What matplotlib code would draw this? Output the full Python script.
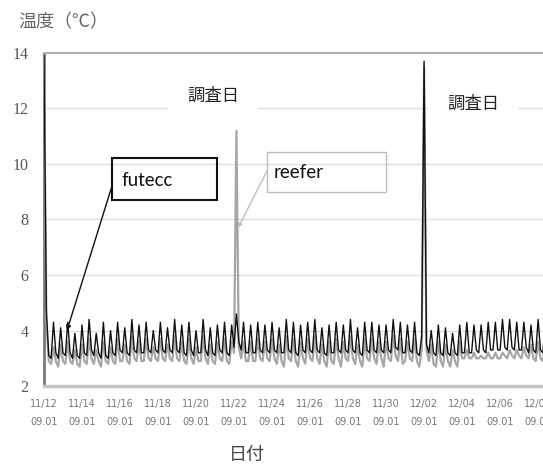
import numpy as np
import pandas as pd
import matplotlib
matplotlib.use('Agg')
import matplotlib.pyplot as plt
from matplotlib.patches import Rectangle

# readings every 3 hours from 11/12 09:01, one row per day
futecc = [
    13.9, 4.7, 3.1, 3.0, 4.3, 3.2, 3.0, 4.1,
    3.2, 3.1, 4.3, 3.2, 3.0, 3.9, 3.1, 3.0,
    4.2, 3.2, 3.1, 4.4, 3.3, 3.1, 3.9, 3.2,
    3.0, 4.3, 3.1, 3.0, 4.0, 3.2, 3.1, 4.3,
    3.3, 3.2, 4.1, 3.2, 3.1, 4.4, 3.3, 3.2,
    4.2, 3.2, 3.2, 4.3, 3.3, 3.2, 4.0, 3.3,
    3.2, 4.3, 3.3, 3.2, 4.1, 3.3, 3.2, 4.4,
    3.3, 3.2, 4.2, 3.2, 3.1, 4.3, 3.3, 3.1,
    4.0, 3.2, 3.2, 4.4, 3.3, 3.1, 4.1, 3.2,
    3.1, 4.2, 3.3, 3.2, 4.3, 3.2, 3.1, 4.2,
    3.4, 4.6, 3.6, 3.3, 4.3, 3.2, 3.2, 4.2,
    3.2, 3.2, 4.3, 3.3, 3.2, 4.2, 3.3, 3.2,
    4.3, 3.3, 3.2, 4.1, 3.2, 3.2, 4.4, 3.3,
    3.2, 4.3, 3.2, 3.1, 4.2, 3.3, 3.2, 4.3,
    3.3, 3.2, 4.4, 3.3, 3.2, 4.1, 3.2, 3.1,
    4.2, 3.2, 3.2, 4.3, 3.3, 3.2, 4.2, 3.3,
    3.2, 4.4, 3.3, 3.2, 4.1, 3.2, 3.1, 4.3,
    3.3, 3.2, 4.3, 3.3, 3.2, 4.2, 3.3, 3.2,
    4.2, 3.3, 3.2, 4.4, 3.4, 3.3, 4.3, 3.2,
    3.2, 4.2, 3.3, 3.2, 4.3, 3.2, 3.1, 3.8,
    13.7, 3.5, 3.2, 4.0, 3.2, 3.1, 4.2, 3.2,
    3.1, 4.1, 3.2, 3.1, 3.9, 3.2, 3.1, 4.2,
    3.2, 3.2, 4.3, 3.2, 3.2, 4.2, 3.3, 3.2,
    4.2, 3.3, 3.2, 4.3, 3.3, 3.3, 4.3, 3.3,
    3.3, 4.4, 3.4, 3.3, 4.4, 3.4, 3.3, 4.3,
    3.3, 3.3, 4.3, 3.4, 3.2, 4.2, 3.3, 3.2,
    4.4, 3.3, 3.2, 4.3, 3.2, 3.1, 4.1, 3.2,
]
reefer = [
    13.8, 4.4, 2.9, 2.8, 3.4, 2.9, 2.7, 3.5,
    2.9, 2.8, 3.6, 2.9, 2.8, 3.3, 2.8, 2.7,
    3.5, 2.9, 2.8, 3.7, 3.0, 2.8, 3.3, 2.9,
    2.7, 3.6, 2.9, 2.8, 3.4, 2.9, 2.8, 3.7,
    2.9, 2.9, 3.5, 2.9, 2.8, 3.8, 3.0, 2.9,
    3.6, 2.9, 2.9, 3.7, 3.0, 2.9, 3.4, 3.0,
    2.9, 3.7, 3.0, 2.9, 3.5, 3.0, 2.9, 3.8,
    3.0, 2.9, 3.6, 2.9, 2.8, 3.7, 3.0, 2.8,
    3.4, 2.9, 2.9, 3.8, 3.0, 2.8, 3.5, 2.9,
    2.8, 3.6, 3.0, 2.9, 3.7, 2.9, 2.8, 3.6,
    3.2, 11.2, 3.4, 3.0, 3.6, 2.9, 2.9, 3.6,
    2.9, 2.9, 3.7, 3.0, 2.9, 3.6, 3.0, 2.9,
    3.7, 3.0, 2.8, 3.5, 2.9, 2.7, 3.8, 3.0,
    2.9, 3.7, 2.9, 2.7, 3.6, 3.0, 2.8, 3.7,
    3.0, 2.9, 3.8, 3.0, 2.8, 3.5, 2.9, 2.7,
    3.6, 2.9, 2.8, 3.7, 3.0, 2.7, 3.6, 3.0,
    2.9, 3.8, 3.0, 2.8, 3.5, 2.9, 2.7, 3.7,
    3.0, 2.9, 3.7, 3.0, 2.8, 3.6, 3.0, 2.7,
    3.6, 3.0, 2.9, 3.8, 3.1, 2.9, 3.7, 2.8,
    2.9, 3.6, 3.0, 2.9, 3.7, 2.9, 2.7, 3.3,
    13.5, 3.3, 2.9, 3.5, 2.8, 2.7, 3.6, 2.9,
    2.7, 3.5, 2.9, 2.7, 3.3, 2.9, 2.7, 3.6,
    3.0, 3.0, 3.3, 3.0, 3.0, 3.2, 3.0, 3.0,
    3.1, 3.0, 3.0, 3.2, 3.0, 3.0, 3.2, 3.0,
    3.0, 3.2, 3.1, 3.0, 3.3, 3.1, 3.0, 3.3,
    3.1, 3.0, 3.4, 3.1, 3.0, 3.5, 3.0, 2.9,
    3.6, 3.0, 2.9, 3.6, 2.9, 2.8, 3.5, 2.9,
]

start = pd.Timestamp('2015-11-12 09:01')
times = pd.date_range(start, periods=len(futecc), freq='3h')
tick_dates = pd.date_range(start, periods=14, freq='2D')
tick_labels = [d.strftime('%m/%d') + '\n' + d.strftime('%H.%M') for d in tick_dates]
yticks = [2, 4, 6, 8, 10, 12, 14]

jp = ['Noto Sans CJK JP', 'DejaVu Sans']

fig = plt.figure(figsize=(5.43, 4.68), dpi=100)
ax = fig.add_axes([0.081, 0.175, 0.945, 0.712])

ax.plot(times, reefer, color='#a6a6a6', lw=1.6, zorder=3)
ax.plot(times, futecc, color='#111111', lw=1.0, zorder=4)

ax.set_ylim(2, 14)
ax.set_xlim(start, start + pd.Timedelta(days=27))
ax.set_yticks(yticks)
ax.set_yticklabels([str(v) for v in yticks], family='Liberation Serif',
                   fontsize=11.5, color='#555555')
ax.set_xticks(tick_dates)
ax.set_xticklabels(tick_labels, fontsize=7, color='#777777', linespacing=2.0)
ax.tick_params(axis='both', length=0)
ax.tick_params(axis='y', pad=11)
ax.tick_params(axis='x', pad=9)
ax.yaxis.grid(True, color='#dcdcdc', lw=0.9)
ax.set_axisbelow(True)

ax.spines['right'].set_visible(False)
ax.spines['top'].set_color('#b0b0b0')
ax.spines['top'].set_linewidth(1.5)
ax.spines['left'].set_color('#7a7a7a')
ax.spines['left'].set_linewidth(2)
ax.spines['bottom'].set_color('#c4c4c4')
ax.spines['bottom'].set_linewidth(2.5)

fig.text(18 / 543, 1 - 22 / 468, '温度（℃）', family=jp, fontsize=13,
         color='#666666', va='center', ha='left')
fig.text(247 / 543, 1 - 455 / 468, '日付', family=jp, fontsize=13,
         color='#444444', va='center', ha='center')

for x, y in [(213, 96), (473, 104)]:
    fig.text(x / 543, 1 - y / 468, '調査日', family=jp, fontsize=12.5,
             color='#222222', va='center', ha='center', zorder=5,
             bbox=dict(boxstyle='square,pad=1.1', fc='white', ec='none'))

# label boxes
fig.add_artist(Rectangle((112 / 543, 1 - 200 / 468), 105 / 543, 42 / 468,
                         transform=fig.transFigure, fill=False,
                         ec='#111111', lw=1.5, zorder=6))
fig.text(121 / 543, 1 - 180 / 468, 'futecc', family='Lato', fontsize=13.5,
         color='#111111', va='center', ha='left', zorder=6)
fig.add_artist(Rectangle((267 / 543, 1 - 192 / 468), 119 / 543, 40 / 468,
                         transform=fig.transFigure, fill=False,
                         ec='#bdbdbd', lw=1.0, zorder=6))
fig.text(274 / 543, 1 - 172 / 468, 'reefer', family='Lato', fontsize=13.5,
         color='#111111', va='center', ha='left', zorder=6)

ax.annotate('', xy=(start + pd.Timedelta(hours=29), 4.0), xycoords='data',
            xytext=(112 / 543, 1 - 186 / 468), textcoords='figure fraction',
            arrowprops=dict(arrowstyle='-|>', color='#111111', lw=1.0,
                            mutation_scale=7, shrinkA=0, shrinkB=0), zorder=6)
ax.annotate('', xy=(start + pd.Timedelta(hours=245), 7.7), xycoords='data',
            xytext=(267 / 543, 1 - 171 / 468), textcoords='figure fraction',
            arrowprops=dict(arrowstyle='-|>', color='#bdbdbd', lw=1.0,
                            mutation_scale=6, shrinkA=0, shrinkB=0), zorder=6)

fig.savefig('out.png', dpi=100)
